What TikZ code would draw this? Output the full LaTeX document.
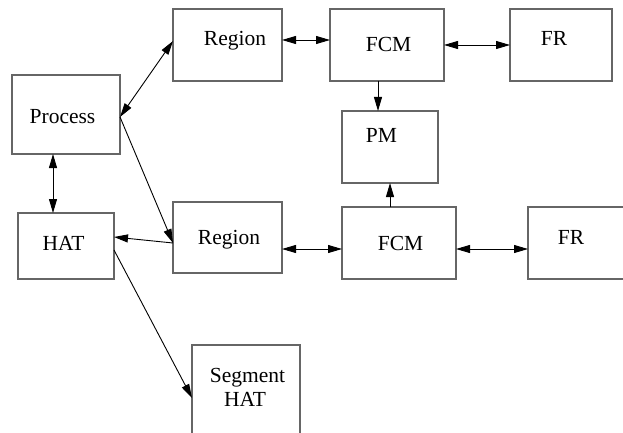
\documentclass[tikz,border=0pt]{standalone}
\usepackage{fontspec}
\setmainfont{Liberation Serif}
\usetikzlibrary{arrows.meta}
\begin{document}
\begin{tikzpicture}[x=1pt,y=-1pt,
  box/.style={draw=black!60,line width=1.3pt,rectangle,inner sep=0pt,outer sep=0pt},
  lbl/.style={anchor=base,inner sep=0pt,font=\fontsize{21.5}{25}\selectfont},
  conn/.style={line width=0.9pt,-{Triangle[length=14pt,width=8pt]}},
  dconn/.style={line width=0.9pt,{Triangle[length=14pt,width=8pt]}-{Triangle[length=14pt,width=8pt]}}]
\useasboundingbox (0,0) rectangle (623,433);
\clip (0,0) rectangle (623,433);
% boxes
\node[box,minimum width=109pt,minimum height=72pt] (region1) at (227.5,45) {};
\node[box,minimum width=108pt,minimum height=79pt] (process) at (66,114.5) {};
\node[box,minimum width=114pt,minimum height=72pt] (fcm1) at (387,45) {};
\node[box,minimum width=102pt,minimum height=72pt] (fr1) at (561,45) {};
\node[box,minimum width=96pt,minimum height=72pt] (pm) at (390,147) {};
\node[box,minimum width=96pt,minimum height=66pt] (hat) at (66,246) {};
\node[box,minimum width=109pt,minimum height=71pt] (region2) at (227.5,237.5) {};
\node[box,minimum width=114pt,minimum height=72pt] (fcm2) at (399,243) {};
\node[box,minimum width=102pt,minimum height=72pt] (fr2) at (579,243) {};
\node[box,minimum width=108pt,minimum height=100pt] (seg) at (246,395) {};
% labels
\node[lbl] (tregion1) at (235,46) {Region};
\node[lbl] (tprocess) at (62.5,124) {Process};
\node[lbl] (tfcm1) at (388.5,52) {FCM};
\node[lbl] (tfr1) at (554,46) {FR};
\node[lbl] (tpm) at (381.5,142) {PM};
\node[lbl] (that) at (63.5,250) {HAT};
\node[lbl] (tregion2) at (229,244) {Region};
\node[lbl] (tfcm2) at (400.5,250) {FCM};
\node[lbl] (tfr2) at (571,244) {FR};
\node[lbl] (tseg) at (247.5,382) {Segment};
\node[lbl] (tseghat) at (245,406) {HAT};
% connectors
\draw[dconn] ([yshift=-2.5pt]process.east) -- ([yshift=4pt]region1.west);
\draw[dconn] ([xshift=-13pt]process.south) -- ([xshift=-13pt]hat.north);
\draw[conn] ([yshift=-2.5pt]process.east) -- ([yshift=-5.5pt]region2.west);
\draw[conn] ([yshift=-5.5pt]region2.west) -- ([yshift=9pt]hat.east);
\draw[conn] ([yshift=-4pt]hat.east) -- ([yshift=-3pt]seg.west);
\draw[dconn] ([yshift=5pt]region1.east) -- ([yshift=5pt]fcm1.west);
\draw[dconn] (fcm1.east) -- (fr1.west);
\draw[conn] ([xshift=-9pt]fcm1.south) -- ([xshift=-12pt]pm.north);
\draw[conn] ([xshift=-9pt]fcm2.north) -- (pm.south);
\draw[dconn] ([yshift=-11.5pt]region2.east) -- ([yshift=-6pt]fcm2.west);
\draw[dconn] ([yshift=-6pt]fcm2.east) -- ([yshift=-6pt]fr2.west);
\end{tikzpicture}
\end{document}
